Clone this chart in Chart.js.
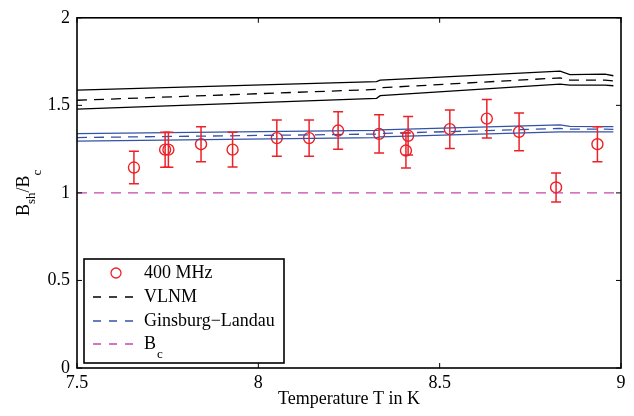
<!DOCTYPE html>
<html>
<head>
<meta charset="utf-8">
<script src="https://cdn.jsdelivr.net/npm/chart.js@4"></script>
<style>
  html, body { margin: 0; padding: 0; background: #fff; }
  #wrap { width: 634px; height: 416px; }
</style>
</head>
<body>
<div id="wrap"><canvas id="chart" width="634" height="416"></canvas></div>
<script>
// measured points (400 MHz)
const temps = [7.657, 7.743, 7.752, 7.842, 7.929, 8.051, 8.140, 8.220, 8.333, 8.407, 8.413, 8.528, 8.630, 8.719, 8.821, 8.935];
const ratio = [1.145, 1.247, 1.247, 1.278, 1.247, 1.313, 1.313, 1.356, 1.337, 1.242, 1.326, 1.364, 1.424, 1.349, 1.031, 1.278];
const ratioErr = [0.093, 0.100, 0.100, 0.100, 0.099, 0.104, 0.104, 0.107, 0.109, 0.100, 0.110, 0.110, 0.110, 0.108, 0.083, 0.100];

// model curves
const curveT = [7.5, 8.326, 8.336, 8.832, 8.859, 8.956, 8.979];
const vlnmUpper = [1.587, 1.635, 1.644, 1.695, 1.676, 1.678, 1.669];
const vlnm = [1.529, 1.591, 1.600, 1.657, 1.644, 1.644, 1.640];
const vlnmLower = [1.478, 1.540, 1.555, 1.621, 1.616, 1.616, 1.612];
const glUpper = [1.339, 1.357, 1.360, 1.389, 1.380, 1.379, 1.379];
const gl = [1.316, 1.336, 1.339, 1.368, 1.364, 1.364, 1.363];
const glLower = [1.296, 1.316, 1.320, 1.349, 1.348, 1.349, 1.348];

const bcT = [7.5, 9];
const bc = [1, 1];

const xTicks = [7.5, 8, 8.5, 9];
const yTicks = [0, 0.5, 1, 1.5, 2];

const RED = 'rgb(236,34,40)';
const BLUE = 'rgb(52,82,168)';
const MAGENTA = 'rgb(196,70,176)';
const FONT = '"Liberation Serif", "Times New Roman", serif';

function pts(xs, ys) {
  return xs.map((x, i) => ({ x: x, y: ys[i] }));
}

function lineSet(label, xs, ys, color, dash) {
  return {
    label: label,
    data: pts(xs, ys),
    showLine: true,
    borderColor: color,
    borderWidth: 1.3,
    borderDash: dash || [],
    pointRadius: 0,
    fill: false,
    tension: 0
  };
}

const errorBars = {
  id: 'errorBars',
  afterDatasetsDraw(chart) {
    const ctx = chart.ctx;
    const xs = chart.scales.x, ys = chart.scales.y;
    ctx.save();
    ctx.strokeStyle = RED;
    ctx.lineWidth = 1.5;
    temps.forEach((t, i) => {
      const px = xs.getPixelForValue(t);
      const top = ys.getPixelForValue(ratio[i] + ratioErr[i]);
      const bot = ys.getPixelForValue(ratio[i] - ratioErr[i]);
      ctx.beginPath();
      ctx.moveTo(px, top); ctx.lineTo(px, bot);
      ctx.moveTo(px - 5, top); ctx.lineTo(px + 5, top);
      ctx.moveTo(px - 5, bot); ctx.lineTo(px + 5, bot);
      ctx.stroke();
    });
    ctx.restore();
  }
};

const frame = {
  id: 'frame',
  afterDraw(chart) {
    const ctx = chart.ctx;
    const a = chart.chartArea;
    const xs = chart.scales.x, ys = chart.scales.y;
    ctx.save();
    ctx.strokeStyle = '#000';
    ctx.lineWidth = 1;
    ctx.beginPath();
    xTicks.forEach(v => {
      const p = xs.getPixelForValue(v);
      ctx.moveTo(p, a.bottom); ctx.lineTo(p, a.bottom - 5);
      ctx.moveTo(p, a.top); ctx.lineTo(p, a.top + 5);
    });
    yTicks.forEach(v => {
      const p = ys.getPixelForValue(v);
      ctx.moveTo(a.left, p); ctx.lineTo(a.left + 5, p);
      ctx.moveTo(a.right, p); ctx.lineTo(a.right - 5, p);
    });
    ctx.stroke();
    ctx.lineWidth = 1.6;
    ctx.strokeRect(a.left, a.top, a.right - a.left, a.bottom - a.top);

    // y axis title with subscripts
    ctx.translate(24, (a.top + a.bottom) / 2);
    ctx.rotate(-Math.PI / 2);
    ctx.fillStyle = '#000';
    ctx.textBaseline = 'middle';
    const parts = [['B', 18, 0], ['sh', 13, 8], ['/B', 18, 0], ['c', 13, 14]];
    let w = 0;
    parts.forEach(p => { ctx.font = p[1] + 'px ' + FONT; w += ctx.measureText(p[0]).width; });
    let x = -w / 2;
    parts.forEach(p => {
      ctx.font = p[1] + 'px ' + FONT;
      ctx.fillText(p[0], x, p[2]);
      x += ctx.measureText(p[0]).width;
    });
    ctx.restore();
  }
};

const boxLegend = {
  id: 'boxLegend',
  afterDraw(chart) {
    const ctx = chart.ctx;
    const L = 84, T = 259, W = 200, H = 104;
    ctx.save();
    ctx.fillStyle = '#fff';
    ctx.fillRect(L, T, W, H);
    ctx.strokeStyle = '#000';
    ctx.lineWidth = 1.6;
    ctx.strokeRect(L, T, W, H);
    const rows = [
      { y: 273, text: '400 MHz', color: RED, marker: true },
      { y: 297, text: 'VLNM', color: '#000' },
      { y: 321, text: 'Ginsburg\u2212Landau', color: BLUE },
      { y: 344, text: 'B', sub: 'c', color: MAGENTA }
    ];
    rows.forEach(r => {
      ctx.strokeStyle = r.color;
      ctx.lineWidth = 1.3;
      if (r.marker) {
        ctx.beginPath();
        ctx.arc(116, r.y, 5, 0, Math.PI * 2);
        ctx.stroke();
      } else {
        ctx.setLineDash([8, 8]);
        ctx.beginPath();
        ctx.moveTo(93, r.y); ctx.lineTo(139, r.y);
        ctx.stroke();
        ctx.setLineDash([]);
      }
      ctx.fillStyle = '#000';
      ctx.textBaseline = 'middle';
      ctx.font = '18px ' + FONT;
      ctx.fillText(r.text, 144, r.y);
      if (r.sub) {
        const w = ctx.measureText(r.text).width;
        ctx.font = '13px ' + FONT;
        ctx.fillText(r.sub, 144 + w + 1, r.y + 11);
      }
    });
    ctx.restore();
  }
};

new Chart(document.getElementById('chart'), {
  type: 'scatter',
  data: {
    datasets: [
      lineSet('Bc', bcT, bc, MAGENTA, [10, 7]),
      lineSet('VLNM upper', curveT, vlnmUpper, '#000'),
      lineSet('VLNM', curveT, vlnm, '#000', [10, 7]),
      lineSet('VLNM lower', curveT, vlnmLower, '#000'),
      lineSet('GL upper', curveT, glUpper, BLUE),
      lineSet('Ginsburg-Landau', curveT, gl, BLUE, [10, 7]),
      lineSet('GL lower', curveT, glLower, BLUE),
      {
        label: '400 MHz',
        data: pts(temps, ratio),
        showLine: false,
        pointStyle: 'circle',
        pointRadius: 5.5,
        pointBorderWidth: 1.4,
        pointBorderColor: RED,
        pointBackgroundColor: 'rgba(0,0,0,0)'
      }
    ]
  },
  options: {
    responsive: false,
    animation: false,
    layout: { padding: { left: 0, right: 13, top: 16, bottom: 0 } },
    plugins: {
      legend: { display: false },
      tooltip: { enabled: false }
    },
    scales: {
      x: {
        type: 'linear',
        min: 7.5,
        max: 9,
        afterBuildTicks: s => { s.ticks = xTicks.map(v => ({ value: v })); },
        afterFit: s => { s.height = 48; },
        grid: { display: false, drawTicks: false },
        border: { display: false },
        ticks: { color: '#000', font: { family: FONT, size: 18 }, padding: 4, maxRotation: 0, callback: v => String(v) },
        title: { display: true, text: 'Temperature T in K', color: '#000', font: { family: FONT, size: 18 }, padding: { top: 0, bottom: 6 } }
      },
      y: {
        type: 'linear',
        min: 0,
        max: 2,
        afterBuildTicks: s => { s.ticks = yTicks.map(v => ({ value: v })); },
        afterFit: s => { s.width = 77; },
        grid: { display: false, drawTicks: false },
        border: { display: false },
        ticks: { color: '#000', font: { family: FONT, size: 18 }, padding: 7, callback: v => String(v) }
      }
    }
  },
  plugins: [errorBars, frame, boxLegend]
});
</script>
</body>
</html>
